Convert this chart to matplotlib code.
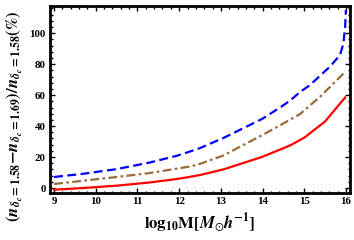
import matplotlib
matplotlib.use("Agg")
import matplotlib.pyplot as plt
import numpy as np
from matplotlib.ticker import AutoMinorLocator

plt.rcParams['font.family'] = ['Liberation Serif', 'DejaVu Serif']
plt.rcParams['mathtext.fontset'] = 'stix'

# log10 M values and percentage differences
logM_blue = [9.0, 9.7, 10.5, 11.3, 11.94, 12.26, 12.5, 13.06, 13.98, 14.42, 14.66,
             14.9, 15.14, 15.62, 15.86, 15.94, 15.98, 16.0]
blue = [7.1, 9.2, 12.2, 16.5, 20.8, 23.6, 25.8, 32.3, 44.5, 52.0, 56.5,
        62.0, 66.6, 78.5, 86.0, 93.5, 104.0, 115.0]

logM_brown = [9.0, 9.7, 10.5, 11.3, 11.94, 12.26, 12.5, 13.06, 13.98, 14.42, 14.9,
              15.38, 15.98]
brown = [2.6, 4.7, 7.1, 9.7, 12.5, 13.9, 15.6, 21.0, 34.0, 40.5, 47.8,
         59.0, 75.0]

logM_red = [9.0, 9.7, 10.5, 11.3, 11.94, 12.26, 12.5, 13.06, 13.98, 14.66, 15.0,
            15.5, 15.98]
red = [-1.1, 0.0, 1.5, 3.6, 5.8, 7.2, 8.4, 12.0, 20.0, 27.5, 32.5,
       43.0, 58.5]

x_ticks = [9, 10, 11, 12, 13, 14, 15, 16]
y_ticks = [0, 20, 40, 60, 80, 100]

fig = plt.figure(figsize=(3.54, 2.40), dpi=100)
ax = fig.add_axes([0.141, 0.196, 0.848, 0.779])

ax.plot(logM_blue, blue, color='#0000ff', lw=1.6, dashes=(4, 2))
ax.plot(logM_brown, brown, color='#9c6b3c', lw=1.6, dashes=(4, 1.5, 1.2, 1.5))
ax.plot(logM_red, red, color='#ff0000', lw=1.6)

ax.set_xlim(8.9, 16.1)
ax.set_ylim(-3.2, 117.6)
ax.set_xticks(x_ticks)
ax.set_yticks(y_ticks)
ax.xaxis.set_minor_locator(AutoMinorLocator(5))
ax.yaxis.set_minor_locator(AutoMinorLocator(5))
ax.tick_params(which='both', direction='in', top=True, right=True, width=1.0)
ax.tick_params(which='major', length=3.5, labelsize=7.8, pad=3)
ax.tick_params(which='minor', length=1.8)
for lab in ax.get_xticklabels() + ax.get_yticklabels():
    lab.set_fontweight('bold')
for s in ax.spines.values():
    s.set_linewidth(2.0)

ax.set_xlabel(r'$\mathbf{log_{10}M[}\mathbfit{M}_{\odot}\mathbfit{h}^{\mathbf{-1}}\mathbf{]}$',
              fontsize=12, labelpad=4)
ax.set_ylabel(r'$\mathbf{(}\mathbfit{n}_{\mathbfit{\delta_c}\mathbf{=1.58}}\mathbf{-}\mathbfit{n}_{\mathbfit{\delta_c}\mathbf{=1.69}}\mathbf{)/}\mathbfit{n}_{\mathbfit{\delta_c}\mathbf{=1.58}}\mathbf{(\%)}$',
              fontsize=12)
ax.yaxis.set_label_coords(-0.082, 0.41)

fig.savefig('out.png', dpi=100)
